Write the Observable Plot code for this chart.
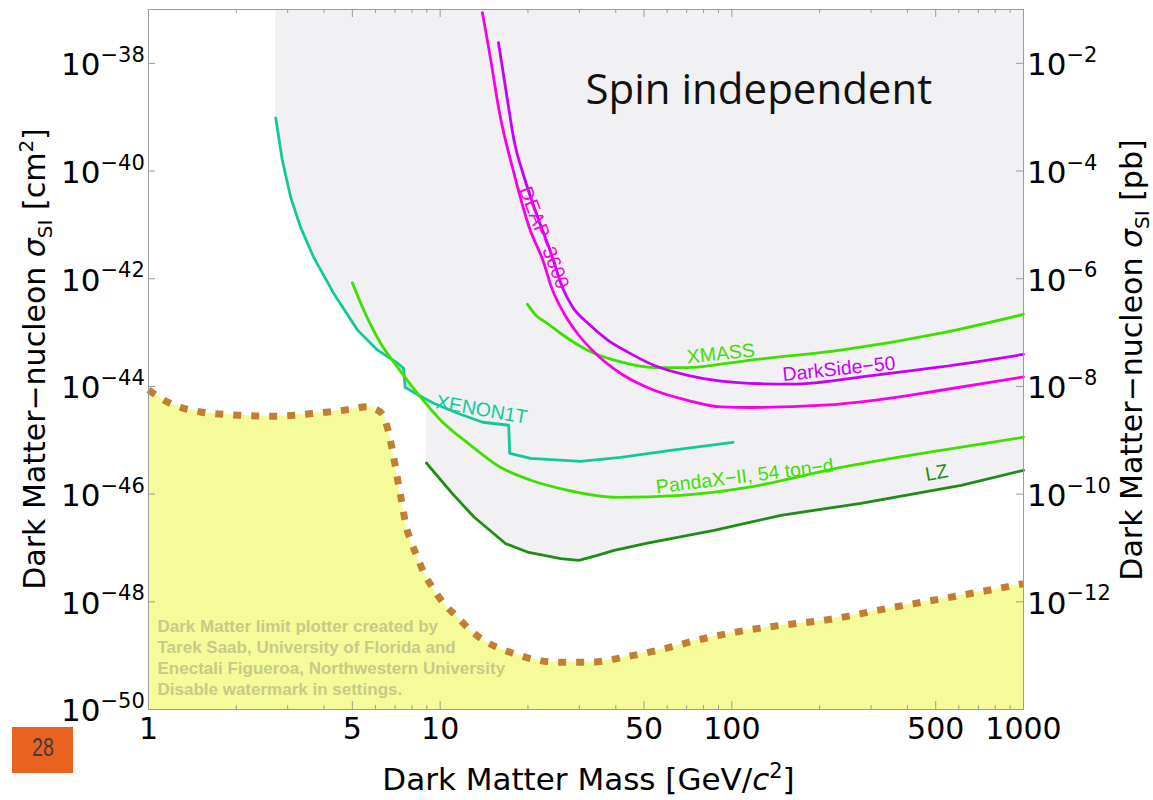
<!DOCTYPE html>
<html>
<head>
<meta charset="utf-8">
<script src="https://cdn.jsdelivr.net/npm/d3@7"></script>
<script src="https://cdn.jsdelivr.net/npm/@observablehq/plot@0.6"></script>
<style>
  html, body { margin: 0; padding: 0; background: #ffffff; }
  #wrap { position: relative; width: 1153px; height: 800px; overflow: hidden; }
  #chart svg { display: block; }
  .page-num {
    position: absolute; left: 12px; top: 727px; width: 61px; height: 46px;
    background: #ea6220; color: #3d3d3d; text-align: center;
    font: 25px "Liberation Sans", Arial, sans-serif; line-height: 40px;
  }
  .page-num span { display: inline-block; transform: scaleX(0.78); }
</style>
</head>
<body>
<div id="wrap">
  <div id="chart"></div>
  <div class="page-num"><span>28</span></div>
</div>
<script>
// ---- Exclusion limits: WIMP mass [GeV/c^2] and SI cross-section [cm^2] ----
const xenon1tMass  = [2.73, 2.875, 3.07, 3.32, 3.68, 4.31, 5.21, 6.10, 7.15, 7.49, 7.58, 8.44, 9.50, 11.48, 13.99, 17.18, 17.31, 20.44, 30.3, 41.6, 61.8, 100.8];
const xenon1tSigma = [9.66e-40, 1.60e-40, 3.29e-41, 9.10e-42, 2.52e-42, 5.40e-43, 1.11e-43, 4.71e-44, 2.70e-44, 2.18e-44, 9.66e-45, 6.85e-45, 4.88e-45, 3.18e-45, 2.16e-45, 1.90e-45, 5.73e-46, 4.62e-46, 4.07e-46, 4.83e-46, 6.52e-46, 9.18e-46];

const pandaxMass  = [5.00, 5.47, 6.25, 7.13, 8.35, 10.04, 12.72, 15.87, 20.44, 26.5, 40.6, 66.8, 113.5, 236.6, 521, 1000];
const pandaxSigma = [8.39e-43, 2.61e-43, 6.35e-44, 2.30e-44, 7.48e-45, 2.36e-45, 8.07e-46, 3.29e-46, 1.81e-46, 1.23e-46, 8.73e-47, 9.51e-47, 1.34e-46, 3.15e-46, 6.52e-46, 1.14e-45];

const lzMass  = [8.97, 11.01, 13.06, 16.78, 19.91, 25.9, 29.9, 34.6, 39.5, 51.4, 86.9, 147.3, 277, 611, 1000];
const lzSigma = [3.78e-46, 1.02e-46, 3.75e-47, 1.20e-47, 8.39e-48, 6.32e-48, 5.89e-48, 7.28e-48, 9.02e-48, 1.23e-47, 2.12e-47, 4.04e-47, 6.75e-47, 1.46e-46, 2.77e-46];

const xmassMass  = [19.9, 21.27, 23.3, 25.9, 32.0, 41.6, 54.1, 70.5, 91.7, 116.1, 236.6, 521, 1000];
const xmassSigma = [3.37e-43, 2.10e-43, 1.48e-43, 9.62e-44, 4.71e-44, 2.85e-44, 2.24e-44, 2.24e-44, 2.59e-44, 3.07e-44, 4.71e-44, 9.75e-44, 2.17e-43];

const deapMass  = [13.96, 14.91, 15.91, 17.91, 20.17, 22.70, 23.93, 26.59, 29.56, 34.62, 41.6, 54.1, 70.5, 91.7, 116.1, 206.8, 306.9, 521, 1000];
const deapSigma = [8.75e-38, 1.16e-38, 1.36e-39, 9.06e-41, 9.23e-42, 1.92e-42, 7.60e-43, 2.26e-43, 9.62e-44, 3.80e-44, 1.74e-44, 8.49e-45, 5.53e-45, 4.16e-45, 4.06e-45, 4.48e-45, 5.53e-45, 8.49e-45, 1.50e-44];

const darksideMass  = [15.84, 17.01, 17.91, 19.39, 21.56, 23.93, 26.32, 28.48, 32.06, 37.55, 43.98, 54.0, 70.6, 91.7, 125.8, 159.4, 306.9, 521, 1000];
const darksideSigma = [2.43e-38, 2.09e-39, 3.77e-40, 7.83e-41, 1.42e-41, 3.12e-42, 6.68e-43, 2.96e-43, 1.50e-43, 7.23e-44, 4.33e-44, 2.48e-44, 1.61e-44, 1.25e-44, 1.12e-44, 1.10e-44, 1.61e-44, 2.30e-44, 3.92e-44];

// ---- Neutrino floor ----
const floorMass  = [1, 1.159, 1.508, 2.04, 2.69, 3.64, 4.87, 5.63, 5.96, 6.34, 6.63, 6.86, 7.04, 7.22, 7.42, 7.61, 7.92, 8.35, 8.80, 9.40, 10.30, 11.46, 12.72, 14.13, 16.13, 18.40, 21.27, 24.57, 32.8, 43.87, 58.6, 77.2, 103.2, 137.9, 213, 360.5, 610.6, 1000];
const floorSigma = [8.6e-45, 5.15e-45, 3.36e-45, 2.92e-45, 2.79e-45, 3.13e-45, 3.72e-45, 4.20e-45, 3.85e-45, 3.04e-45, 1.53e-45, 6.52e-46, 2.98e-46, 1.36e-46, 6.19e-47, 2.83e-47, 1.38e-47, 6.78e-48, 3.41e-48, 1.87e-48, 9.23e-49, 5.20e-49, 2.94e-49, 1.92e-49, 1.34e-49, 1.04e-49, 8.39e-50, 7.57e-50, 7.57e-50, 9.66e-50, 1.34e-49, 1.98e-49, 2.74e-49, 3.49e-49, 4.65e-49, 7.96e-49, 1.32e-48, 2.17e-48];

// ---- Curve labels (anchor mass, anchor cross-section) ----
const labelNames = ["XENON1T", "XMASS", "DarkSide−50", "PandaX−II, 54 ton−d", "LZ", "DEAP−3600"];
const labelMass  = [13.88, 91.7, 233, 110.8, 504, 22.7];
const labelSigma = [3.69e-45, 4.06e-44, 2.11e-44, 2.14e-46, 2.49e-46, 5.81e-42];

// ---- Axis ticks ----
const xTickLabels = [1, 5, 10, 50, 100, 500, 1000];
const xMinorTicks = [2, 3, 4, 6, 7, 8, 9, 20, 30, 40, 60, 70, 80, 90, 200, 300, 400, 600, 700, 800, 900];
const yExponentsCm = [-38, -40, -42, -44, -46, -48, -50];
const yExponentsPb = [-2, -4, -6, -8, -10, -12];   // 1 pb = 1e-36 cm^2

const watermarkLines = [
  "Dark Matter limit plotter created by",
  "Tarek Saab, University of Florida and",
  "Enectali Figueroa, Northwestern University",
  "Disable watermark in settings."
];

// ---- Build tables ----
const rows = (mass, sigma) => mass.map((m, i) => ({m, s: sigma[i]}));
const limits = [
  {name: "XENON1T",    data: rows(xenon1tMass, xenon1tSigma)},
  {name: "PandaX-II",  data: rows(pandaxMass, pandaxSigma)},
  {name: "XMASS",      data: rows(xmassMass, xmassSigma)},
  {name: "DarkSide-50", data: rows(darksideMass, darksideSigma)},
  {name: "DEAP-3600",  data: rows(deapMass, deapSigma)},
  {name: "LZ",         data: rows(lzMass, lzSigma)}
];
const floor = rows(floorMass, floorSigma);
const labels = labelNames.map((name, i) => ({name, m: labelMass[i], s: labelSigma[i]}));

// ---- Styling ----
const SIGMA_MIN = 1e-50, SIGMA_MAX = 1e-37;
const W = 1153, H = 800, ML = 148, MR = 130, MT = 9, MB = 91;
const FRAME_W = W - ML - MR, FRAME_H = H - MT - MB;
const AXIS_FONT = "DejaVu Sans, Verdana, sans-serif";
const LABEL_FONT = "Liberation Sans, Arial, Helvetica, sans-serif";
const axisGray = "#9c9c9c";
const limitStyle = {
  "XENON1T":     {color: "#12c99a", curve: "linear"},
  "PandaX-II":   {color: "#3ee000", curve: "monotone-x"},
  "XMASS":       {color: "#3ee000", curve: "monotone-x"},
  "DarkSide-50": {color: "#c800fa", curve: "monotone-x"},
  "DEAP-3600":   {color: "#fb00e4", curve: "monotone-x"},
  "LZ":          {color: "#1f8c16", curve: "linear"}
};
const labelStyle = {
  "XENON1T":             {color: "#12c99a", rotate: 10},
  "XMASS":               {color: "#3ee000", rotate: -6},
  "DarkSide−50":         {color: "#c800fa", rotate: -6},
  "PandaX−II, 54 ton−d": {color: "#3ee000", rotate: -7},
  "LZ":                  {color: "#1f8c16", rotate: -10},
  "DEAP−3600":           {color: "#fb00e4", rotate: 69}
};

const chart = Plot.plot({
  width: W, height: H,
  marginLeft: ML, marginRight: MR, marginTop: MT, marginBottom: MB,
  x: {type: "log", domain: [1, 1000], axis: null},
  y: {type: "log", domain: [SIGMA_MIN, SIGMA_MAX], axis: null},
  style: {fontFamily: LABEL_FONT, background: "#ffffff"},
  marks: [
    // excluded parameter space: everything above each limit
    ...limits.map(d => Plot.areaY(d.data, {x: "m", y1: "s", y2: SIGMA_MAX, fill: "#f1f1f3", curve: limitStyle[d.name].curve})),
    // neutrino floor region
    Plot.areaY(floor, {x: "m", y1: SIGMA_MIN, y2: "s", fill: "#f6fb99", curve: "monotone-x"}),
    Plot.text([watermarkLines.join("\n")], {
      frameAnchor: "bottom-left", dx: 9, dy: -15, textAnchor: "start", lineAnchor: "bottom",
      lineHeight: 1.235, fontSize: 17, fontWeight: "bold", fontFamily: LABEL_FONT, fill: "#c6cb86"
    }),
    Plot.line(floor, {
      x: "m", y: "s", stroke: "#c17f36", strokeWidth: 7, strokeDasharray: "8,10",
      strokeLinecap: "butt", curve: "monotone-x"
    }),
    // experimental limits
    ...limits.map(d => Plot.line(d.data, {x: "m", y: "s", stroke: limitStyle[d.name].color, strokeWidth: 2.8, curve: limitStyle[d.name].curve})),
    ...labels.map(d => Plot.text([d], {
      x: "m", y: "s", text: "name", rotate: labelStyle[d.name].rotate, fill: labelStyle[d.name].color,
      fontSize: 19.5, fontFamily: LABEL_FONT
    })),
    Plot.text(["Spin independent"], {
      frameAnchor: "top-left", dx: 437, dy: 94, textAnchor: "start", lineAnchor: "bottom",
      fontSize: 42, fontFamily: "Open Sans, Lato, sans-serif", fill: "#111111"
    }),
    // frame and inward ticks
    Plot.frame({stroke: axisGray, strokeWidth: 1}),
    Plot.tickX(xTickLabels, {x: d => d, insetTop: FRAME_H - 8, stroke: axisGray}),
    Plot.tickX(xMinorTicks, {x: d => d, insetTop: FRAME_H - 4, stroke: axisGray}),
    Plot.tickX(xTickLabels, {x: d => d, insetBottom: FRAME_H - 8, stroke: axisGray}),
    Plot.tickX(xMinorTicks, {x: d => d, insetBottom: FRAME_H - 4, stroke: axisGray}),
    Plot.tickY(yExponentsCm, {y: e => 10 ** e, insetRight: FRAME_W - 7, stroke: axisGray}),
    Plot.tickY(yExponentsPb, {y: e => 10 ** (e - 36), insetLeft: FRAME_W - 7, stroke: axisGray}),
    // tick labels
    Plot.text(xTickLabels, {
      x: d => d, text: d => String(d), frameAnchor: "bottom", textAnchor: "middle", lineAnchor: "bottom",
      dy: 29, fontSize: 30, fontFamily: AXIS_FONT, fill: "#000"
    }),
    Plot.text(yExponentsCm, {
      y: e => 10 ** e, text: () => "10", frameAnchor: "left", textAnchor: "end",
      dx: -48, dy: 2, fontSize: 31, fontFamily: AXIS_FONT, fill: "#000"
    }),
    Plot.text(yExponentsCm, {
      y: e => 10 ** e, text: e => "−" + Math.abs(e), frameAnchor: "left", textAnchor: "start", lineAnchor: "bottom",
      dx: -48, dy: -1.5, fontSize: 21, fontFamily: AXIS_FONT, fill: "#000"
    }),
    Plot.text(yExponentsPb, {
      y: e => 10 ** (e - 36), text: () => "10", frameAnchor: "right", textAnchor: "start",
      dx: 3.5, dy: 2, fontSize: 31, fontFamily: AXIS_FONT, fill: "#000"
    }),
    Plot.text(yExponentsPb, {
      y: e => 10 ** (e - 36), text: e => "−" + Math.abs(e), frameAnchor: "right", textAnchor: "start", lineAnchor: "bottom",
      dx: 43, dy: -1.5, fontSize: 21, fontFamily: AXIS_FONT, fill: "#000"
    })
  ]
});

document.getElementById("chart").appendChild(chart);

// ---- Axis titles with Greek symbols, sub- and superscripts ----
const svg = d3.select(chart);
const titles = svg.append("g")
  .attr("font-family", AXIS_FONT)
  .attr("fill", "#000")
  .attr("text-anchor", "middle");

const bottom = titles.append("text")
  .attr("x", ML + FRAME_W / 2 + 3).attr("y", 790).attr("font-size", 31);
bottom.append("tspan").text("Dark Matter Mass [GeV/");
bottom.append("tspan").attr("font-style", "italic").text("c");
bottom.append("tspan").attr("font-size", 21).attr("dy", -12).text("2");
bottom.append("tspan").attr("dy", 12).text("]");

function sigmaTitle(x, y, unit, squared) {
  const t = titles.append("text")
    .attr("transform", `translate(${x},${y}) rotate(-90)`)
    .attr("font-size", 30);
  t.append("tspan").text("Dark Matter−nucleon ");
  t.append("tspan").attr("font-style", "italic").text("σ");
  t.append("tspan").attr("font-size", 20).attr("dy", 7).text("SI");
  t.append("tspan").attr("dy", -7).text(" [" + unit);
  if (squared) {
    t.append("tspan").attr("font-size", 20).attr("dy", -12).text("2");
    t.append("tspan").attr("dy", 12).text("]");
  } else {
    t.append("tspan").text("]");
  }
}
sigmaTitle(45, MT + FRAME_H / 2, "cm", true);
sigmaTitle(1142, MT + FRAME_H / 2 + 1, "pb", false);
</script>
</body>
</html>
